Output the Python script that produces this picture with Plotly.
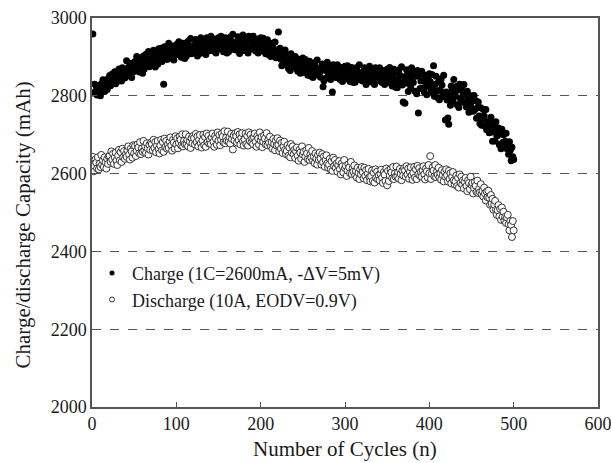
import plotly.graph_objects as go

cycles = list(range(1, 501))

charge = [
    2959, 2807, 2830, 2811, 2825, 2802, 2817, 2827, 2809, 2800,
    2818, 2832, 2841, 2822, 2811, 2836, 2829, 2816, 2844, 2825,
    2852, 2826, 2840, 2856, 2848, 2833, 2862, 2831, 2845, 2837,
    2854, 2869, 2842, 2863, 2838, 2872, 2850, 2866, 2846, 2857,
    2890, 2859, 2873, 2852, 2883, 2867, 2847, 2878, 2862, 2886,
    2888, 2868, 2901, 2875, 2894, 2861, 2883, 2897, 2871, 2858,
    2902, 2869, 2886, 2907, 2896, 2878, 2914, 2875, 2893, 2883,
    2883, 2904, 2917, 2890, 2874, 2909, 2900, 2881, 2921, 2894,
    2904, 2922, 2888, 2915, 2830, 2926, 2899, 2918, 2893, 2907,
    2935, 2904, 2918, 2897, 2928, 2912, 2892, 2923, 2907, 2931,
    2926, 2906, 2939, 2913, 2932, 2899, 2921, 2935, 2909, 2896,
    2935, 2902, 2919, 2940, 2929, 2911, 2947, 2908, 2926, 2916,
    2911, 2932, 2945, 2918, 2902, 2937, 2928, 2909, 2949, 2922,
    2927, 2945, 2911, 2938, 2906, 2949, 2922, 2941, 2916, 2930,
    2953, 2922, 2936, 2915, 2946, 2930, 2910, 2941, 2925, 2949,
    2940, 2920, 2953, 2927, 2946, 2913, 2935, 2949, 2923, 2910,
    2946, 2913, 2930, 2951, 2940, 2922, 2958, 2919, 2937, 2927,
    2918, 2939, 2952, 2925, 2909, 2944, 2935, 2916, 2956, 2929,
    2931, 2949, 2915, 2942, 2910, 2953, 2926, 2945, 2920, 2934,
    2953, 2922, 2936, 2915, 2946, 2930, 2910, 2941, 2925, 2949,
    2935, 2915, 2948, 2922, 2941, 2908, 2930, 2944, 2918, 2905,
    2935, 2901, 2917, 2935, 2923, 2904, 2938, 2898, 2915, 2904,
    2964, 2910, 2922, 2894, 2877, 2911, 2900, 2881, 2918, 2889,
    2886, 2904, 2870, 2897, 2865, 2908, 2881, 2900, 2875, 2889,
    2901, 2870, 2884, 2863, 2894, 2878, 2858, 2889, 2873, 2897,
    2880, 2860, 2893, 2867, 2886, 2853, 2875, 2889, 2863, 2850,
    2880, 2847, 2864, 2885, 2874, 2856, 2892, 2853, 2871, 2861,
    2848, 2869, 2882, 2823, 2839, 2874, 2865, 2846, 2886, 2859,
    2858, 2876, 2842, 2869, 2810, 2880, 2853, 2872, 2847, 2861,
    2880, 2849, 2863, 2842, 2873, 2857, 2837, 2868, 2852, 2876,
    2864, 2844, 2877, 2851, 2870, 2837, 2859, 2873, 2847, 2834,
    2868, 2835, 2852, 2873, 2862, 2844, 2880, 2841, 2859, 2849,
    2838, 2859, 2872, 2845, 2829, 2864, 2855, 2836, 2876, 2849,
    2850, 2868, 2834, 2861, 2829, 2872, 2845, 2864, 2839, 2853,
    2872, 2841, 2855, 2834, 2865, 2849, 2829, 2860, 2844, 2868,
    2858, 2834, 2873, 2842, 2865, 2825, 2852, 2868, 2837, 2822,
    2861, 2821, 2841, 2867, 2853, 2832, 2875, 2828, 2784, 2838,
    2781, 2850, 2867, 2832, 2811, 2856, 2845, 2820, 2872, 2837,
    2834, 2859, 2812, 2850, 2805, 2865, 2756, 2854, 2819, 2838,
    2863, 2819, 2839, 2810, 2853, 2831, 2803, 2846, 2824, 2857,
    2837, 2809, 2855, 2819, 2877, 2799, 2830, 2850, 2813, 2795,
    2836, 2790, 2814, 2843, 2828, 2803, 2853, 2798, 2738, 2810,
    2789, 2743, 2727, 2799, 2776, 2825, 2813, 2786, 2842, 2804,
    2799, 2824, 2777, 2815, 2770, 2830, 2792, 2819, 2784, 2803,
    2829, 2783, 2801, 2771, 2812, 2788, 2758, 2797, 2775, 2800,
    2788, 2760, 2801, 2765, 2787, 2742, 2769, 2784, 2748, 2729,
    2769, 2724, 2741, 2765, 2748, 2722, 2765, 2713, 2733, 2720,
    2705, 2731, 2745, 2707, 2683, 2725, 2711, 2684, 2733, 2698,
    2698, 2717, 2674, 2705, 2664, 2714, 2680, 2700, 2668, 2683,
    2704, 2664, 2678, 2650, 2682, 2660, 2633, 2668, 2643, 2636,
]

discharge = [
    2643, 2606, 2620, 2636, 2628, 2613, 2642, 2611, 2625, 2617,
    2648, 2623, 2634, 2617, 2642, 2629, 2613, 2638, 2625, 2644,
    2646, 2630, 2657, 2636, 2651, 2625, 2642, 2654, 2633, 2622,
    2646, 2661, 2634, 2655, 2630, 2664, 2642, 2658, 2638, 2649,
    2643, 2660, 2670, 2649, 2636, 2664, 2657, 2641, 2673, 2652,
    2671, 2645, 2659, 2675, 2667, 2652, 2681, 2650, 2664, 2656,
    2684, 2659, 2670, 2653, 2678, 2665, 2649, 2674, 2661, 2680,
    2676, 2660, 2687, 2666, 2681, 2655, 2672, 2684, 2663, 2652,
    2672, 2687, 2660, 2681, 2656, 2690, 2668, 2684, 2664, 2675,
    2666, 2683, 2693, 2672, 2659, 2687, 2680, 2664, 2696, 2675,
    2691, 2665, 2679, 2695, 2687, 2672, 2701, 2670, 2684, 2676,
    2701, 2676, 2687, 2670, 2695, 2682, 2666, 2691, 2678, 2697,
    2691, 2675, 2702, 2681, 2696, 2670, 2687, 2699, 2678, 2667,
    2685, 2700, 2673, 2694, 2669, 2703, 2681, 2697, 2677, 2688,
    2676, 2693, 2703, 2682, 2669, 2697, 2690, 2674, 2706, 2685,
    2699, 2673, 2687, 2703, 2695, 2680, 2709, 2678, 2692, 2684,
    2708, 2683, 2694, 2677, 2702, 2689, 2662, 2698, 2685, 2704,
    2696, 2680, 2707, 2686, 2701, 2675, 2692, 2704, 2683, 2672,
    2688, 2703, 2676, 2697, 2672, 2706, 2684, 2700, 2680, 2691,
    2676, 2693, 2703, 2682, 2669, 2697, 2690, 2674, 2706, 2685,
    2694, 2668, 2682, 2698, 2690, 2675, 2704, 2673, 2687, 2679,
    2695, 2670, 2681, 2664, 2689, 2676, 2660, 2685, 2672, 2691,
    2674, 2658, 2685, 2664, 2679, 2653, 2670, 2682, 2661, 2650,
    2658, 2673, 2646, 2667, 2642, 2676, 2654, 2670, 2650, 2661,
    2640, 2657, 2667, 2646, 2633, 2661, 2654, 2638, 2670, 2649,
    2656, 2630, 2644, 2660, 2652, 2637, 2666, 2635, 2649, 2641,
    2658, 2633, 2644, 2627, 2652, 2639, 2623, 2648, 2635, 2654,
    2639, 2623, 2650, 2629, 2644, 2618, 2635, 2647, 2626, 2615,
    2623, 2638, 2611, 2632, 2607, 2641, 2619, 2635, 2615, 2626,
    2605, 2622, 2632, 2611, 2598, 2626, 2619, 2603, 2635, 2614,
    2620, 2594, 2608, 2624, 2616, 2601, 2630, 2599, 2613, 2605,
    2621, 2596, 2607, 2590, 2615, 2602, 2586, 2611, 2598, 2617,
    2604, 2588, 2615, 2594, 2609, 2583, 2600, 2612, 2591, 2580,
    2593, 2608, 2581, 2602, 2577, 2611, 2589, 2605, 2585, 2596,
    2583, 2600, 2610, 2589, 2576, 2604, 2597, 2581, 2613, 2570,
    2607, 2581, 2595, 2611, 2603, 2588, 2617, 2586, 2600, 2592,
    2618, 2593, 2604, 2587, 2612, 2599, 2583, 2608, 2595, 2614,
    2608, 2592, 2619, 2598, 2613, 2587, 2604, 2616, 2595, 2584,
    2602, 2617, 2590, 2611, 2586, 2620, 2598, 2614, 2594, 2605,
    2592, 2609, 2619, 2598, 2585, 2613, 2606, 2590, 2622, 2601,
    2645, 2586, 2600, 2616, 2608, 2593, 2622, 2591, 2605, 2597,
    2615, 2590, 2601, 2584, 2609, 2596, 2580, 2605, 2592, 2611,
    2596, 2580, 2607, 2586, 2601, 2575, 2592, 2604, 2583, 2572,
    2580, 2595, 2568, 2589, 2564, 2598, 2576, 2592, 2572, 2583,
    2562, 2579, 2589, 2568, 2555, 2583, 2576, 2560, 2592, 2571,
    2576, 2549, 2563, 2578, 2569, 2553, 2582, 2550, 2561, 2552,
    2573, 2547, 2556, 2541, 2564, 2549, 2531, 2554, 2539, 2556,
    2538, 2520, 2545, 2522, 2535, 2507, 2520, 2530, 2507, 2494,
    2506, 2519, 2490, 2509, 2481, 2513, 2489, 2502, 2480, 2489,
    2473, 2487, 2494, 2470, 2454, 2478, 2468, 2437, 2478, 2454,
]

x_ticks = [0, 100, 200, 300, 400, 500, 600]
y_ticks = [2000, 2200, 2400, 2600, 2800, 3000]

series_names = ["Charge (1C=2600mA, -ΔV=5mV)", "Discharge (10A, EODV=0.9V)"]
x_title = "Number of Cycles (n)"
y_title = "Charge/discharge Capacity (mAh)"

FONT = "Liberation Serif, Times New Roman, serif"
INK = "#1a1a1a"
AXIS = "#555555"

fig = go.Figure()

fig.add_trace(go.Scatter(
    x=cycles, y=charge, mode="markers", showlegend=False,
    marker=dict(symbol="circle", size=7, color="#000000", line=dict(width=0)),
))
fig.add_trace(go.Scatter(
    x=cycles, y=discharge, mode="markers", showlegend=False,
    marker=dict(symbol="circle", size=7, color="#ffffff", line=dict(width=1, color="#333333")),
))
# legend entries
fig.add_trace(go.Scatter(
    x=[None], y=[None], mode="markers", name=series_names[0],
    marker=dict(symbol="circle", size=5, color="#000000", line=dict(width=0)),
))
fig.add_trace(go.Scatter(
    x=[None], y=[None], mode="markers", name=series_names[1],
    marker=dict(symbol="circle", size=5, color="#ffffff", line=dict(width=1, color="#333333")),
))

axis_common = dict(
    showline=True, linecolor=AXIS, linewidth=1.5, mirror=True,
    ticks="inside", ticklen=5, tickcolor=AXIS, tickwidth=1,
    tickfont=dict(family=FONT, size=18, color=INK),
    zeroline=False, automargin=False, ticklabeloverflow="allow",
)

fig.update_xaxes(range=[0, 600], tickvals=x_ticks, showgrid=False, **axis_common)
fig.update_yaxes(
    range=[2000, 3000], tickvals=y_ticks,
    showgrid=True, gridcolor="#555555", griddash="dash", gridwidth=1,
    **axis_common,
)

fig.add_annotation(
    text=x_title, xref="paper", yref="paper", x=0.5, y=0,
    xanchor="center", yanchor="middle", yshift=-42, showarrow=False,
    font=dict(family=FONT, size=21, color=INK),
)
fig.add_annotation(
    text=y_title, xref="paper", yref="paper", x=0, y=0.5,
    xanchor="center", yanchor="middle", xshift=-70, yshift=-13, textangle=-90,
    showarrow=False, font=dict(family=FONT, size=21, color=INK),
)

fig.update_layout(
    width=611, height=463,
    margin=dict(l=92, r=13, t=18, b=56),
    paper_bgcolor="white", plot_bgcolor="white",
    font=dict(family=FONT, color=INK),
    legend=dict(
        x=0.0, y=0.391, xanchor="left", yanchor="top",
        bgcolor="rgba(0,0,0,0)", borderwidth=0,
        font=dict(family=FONT, size=18, color=INK),
        itemwidth=30, tracegroupgap=0,
    ),
)

fig.write_html("out.html")
